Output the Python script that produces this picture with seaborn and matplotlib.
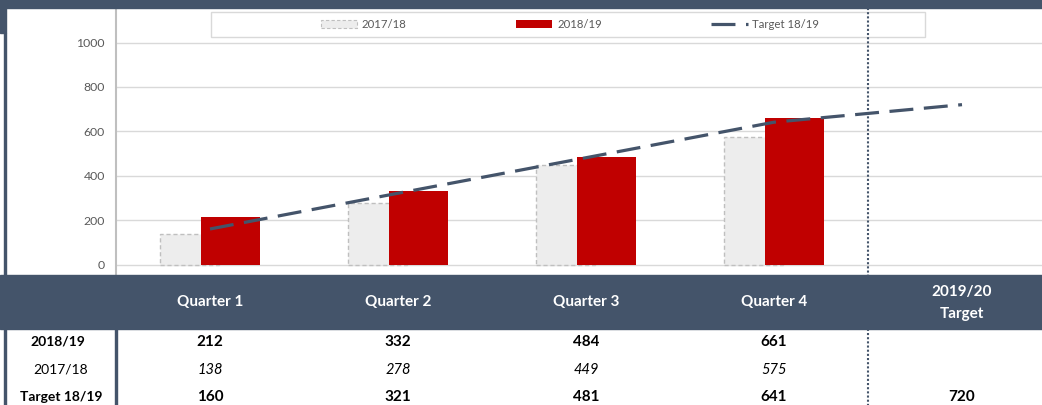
import numpy as np
import pandas as pd
import matplotlib
matplotlib.use("Agg")
import matplotlib.pyplot as plt
from matplotlib.patches import Rectangle, Patch
from matplotlib.lines import Line2D
from matplotlib.transforms import blended_transform_factory
import seaborn as sns

# ---- data ----
categories = ["Quarter 1", "Quarter 2", "Quarter 3", "Quarter 4"]
extra_category = ["2019/20", "Target"]
values_1819 = [212, 332, 484, 661]
values_1718 = [138, 278, 449, 575]
target_1819 = [160, 321, 481, 641, 720]
series_names = ["2017/18", "2018/19", "Target 18/19"]
yticks = [0, 200, 400, 600, 800, 1000]

# ---- style ----
sns.set_theme(style="white")
plt.rcParams["font.family"] = ["Lato", "DejaVu Sans"]

DARK = "#44546A"
RED = "#C00000"
GREY_FILL = "#EDEDED"
GREY_EDGE = "#BFBFBF"
GRID = "#D9D9D9"
TXT = "#595959"

W, H = 1042, 405
fig = plt.figure(figsize=(W / 100, H / 100), dpi=100)
fig.patch.set_facecolor("white")


def fx(px):
    return px / W


def fy(py):
    return 1 - py / H


ax_left, ax_right, ax_top, ax_bottom = 116, 1042, 8, 275
ax = fig.add_axes([fx(ax_left), fy(ax_bottom), fx(ax_right - ax_left), (ax_bottom - ax_top) / H])
ax.set_facecolor("white")

n = len(categories)
pos = np.arange(n)
offset = 0.109
bw = 0.314

sns.barplot(x=pos - offset, y=values_1718, native_scale=True, width=bw, color=GREY_FILL,
            saturation=1, edgecolor=GREY_EDGE, linewidth=1, linestyle=(0, (3, 2)), ax=ax, zorder=2)
sns.barplot(x=pos + offset, y=values_1819, native_scale=True, width=bw, color=RED,
            saturation=1, linewidth=0, ax=ax, zorder=3)
sns.lineplot(x=np.arange(len(target_1819)), y=target_1819, color=DARK, linewidth=2.3,
             linestyle=(0, (7.5, 3.3)), ax=ax, zorder=4)

# axes ranges (pixel mapping: 0 -> y=264.5, 1000 -> y=42.5)
ppu = 222 / 1000
ax.set_ylim(-(ax_bottom - 264.5) / ppu, (264.5 - ax_top) / ppu)
ax.set_xlim(-0.5, (ax_right - 210) / 188)

ax.set_yticks(yticks)
ax.set_yticklabels([str(v) for v in yticks])
ax.tick_params(axis="y", length=0, pad=8, labelsize=8.8, labelcolor=TXT)
ax.set_xticks([])
ax.set_xlabel("")
ax.set_ylabel("")
for yv in yticks:
    ax.axhline(yv, color=GRID, lw=1, zorder=1)
for s in ["top", "right", "bottom"]:
    ax.spines[s].set_visible(False)
ax.spines["left"].set_color(GREY_EDGE)
ax.spines["left"].set_linewidth(1.5)

# ---- decorative bands ----
fig.patches.append(Rectangle((0, fy(8)), 1, 8 / H, transform=fig.transFigure, color=DARK, zorder=1))
fig.patches.append(Rectangle((0, fy(33)), fx(6), 33 / H, transform=fig.transFigure, color=DARK, zorder=1))
fig.patches.append(Rectangle((fx(4), 0), fx(2), fy(33), transform=fig.transFigure, color=DARK, zorder=1))
fig.patches.append(Rectangle((0, fy(329)), 1, 54 / H, transform=fig.transFigure, color=DARK, zorder=1))
fig.patches.append(Rectangle((fx(115), 0), fx(2), fy(329), transform=fig.transFigure, color=DARK, zorder=1))

# legend box
fig.patches.append(Rectangle((fx(211), fy(37)), fx(714), 25 / H, transform=fig.transFigure,
                             facecolor="white", edgecolor=GRID, lw=1, zorder=1))
handles = [
    Patch(facecolor=GREY_FILL, edgecolor=GREY_EDGE, linestyle=(0, (3, 2)), linewidth=0.8, label=series_names[0]),
    Patch(facecolor=RED, edgecolor=RED, linewidth=0, label=series_names[1]),
    Line2D([0], [0], color=DARK, lw=2.3, linestyle=(0, (7.5, 3.3)), label=series_names[2]),
]
leg = fig.legend(handles=handles, loc="center", bbox_to_anchor=(fx(570), fy(24.5)),
                 bbox_transform=fig.transFigure, ncol=3, frameon=False, fontsize=8.2,
                 handlelength=3.2, handleheight=0.65, handletextpad=0.4, columnspacing=9.6,
                 labelcolor=TXT)
leg.set_zorder(5)

# dotted separator
bt = blended_transform_factory(ax.transData, fig.transFigure)
fig.lines.append(Line2D([n - 0.5, n - 0.5], [fy(8), fy(405)], transform=bt, color=DARK,
                        lw=1.5, linestyle=(0, (1, 1)), zorder=6))

# ---- table texts ----
for i, c in enumerate(categories):
    fig.text(i, fy(302), c, transform=bt, ha="center", va="center", color="white",
             fontsize=11, fontweight="bold")
fig.text(n, fy(292), extra_category[0], transform=bt, ha="center", va="center", color="white",
         fontsize=11, fontweight="bold")
fig.text(n, fy(314), extra_category[1], transform=bt, ha="center", va="center", color="white",
         fontsize=11, fontweight="bold")

row_y = [342, 370, 397]
fig.text(fx(58), fy(row_y[0]), series_names[1], ha="center", va="center", color="black",
         fontsize=10, fontweight="bold")
fig.text(fx(61), fy(row_y[1]), series_names[0], ha="center", va="center", color="black",
         fontsize=10)
fig.text(fx(61), fy(row_y[2]), series_names[2], ha="center", va="center", color="black",
         fontsize=10, fontweight="bold")

for i, v in enumerate(values_1819):
    fig.text(i, fy(row_y[0]), str(v), transform=bt, ha="center", va="center", color="black",
             fontsize=11, fontweight="bold")
for i, v in enumerate(values_1718):
    fig.text(i, fy(row_y[1]), str(v), transform=bt, ha="center", va="center", color="black",
             fontsize=10.5, fontstyle="italic")
for i, v in enumerate(target_1819):
    fig.text(i, fy(row_y[2]), str(v), transform=bt, ha="center", va="center", color="black",
             fontsize=11, fontweight="bold")

fig.savefig("out.png", dpi=100, facecolor="white")
